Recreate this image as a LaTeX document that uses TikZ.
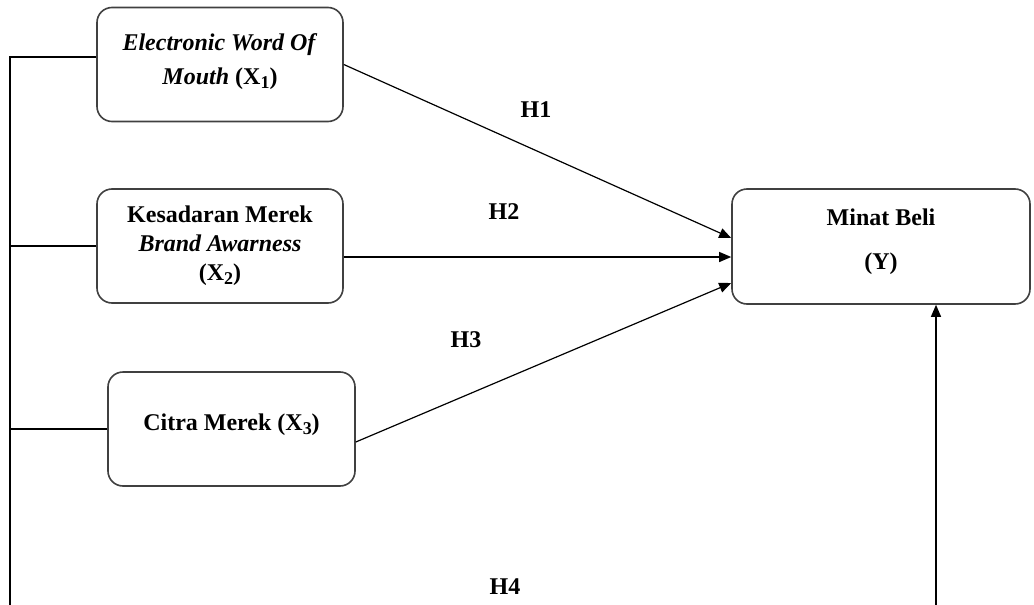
\documentclass[tikz,border=0pt]{standalone}
\usepackage{fontspec}
\setmainfont{Liberation Serif}
\usepackage{tikz}
\usetikzlibrary{calc, positioning, arrows.meta}
\definecolor{boxline}{RGB}{64,64,64}
\newcommand{\xsub}[1]{\raisebox{-0.35ex}{\small#1}}

\begin{document}
\begin{tikzpicture}[
  x=0.5pt, y=-0.5pt,
  font=\fontsize{12}{14.5}\selectfont\bfseries,
  varbox/.style={draw=boxline, line width=0.8pt, rounded corners=7.5pt, minimum width=123pt, minimum height=57pt, align=center, inner sep=2pt},
  link/.style={draw=black, line width=0.6pt},
  arrowlink/.style={link, -{Triangle[length=6pt, width=5pt]}},
  hyplabel/.style={font=\fontsize{12}{14.5}\selectfont\bfseries}
]
\useasboundingbox (0,0) rectangle (1034,605);

% Independent variables
\node[varbox, text depth=5pt] (x1) at (220,64.5) {\textit{Electronic Word Of}\\[2.5pt]\textit{Mouth} (X\xsub{1})};
\node[varbox] (x2) at (220,246) {Kesadaran Merek\\\textit{Brand Awarness}\\(X\xsub{2})};
\node[varbox, minimum width=123.5pt, text depth=7pt] (x3) at (231.5,429) {Citra Merek (X\xsub{3})};

% Dependent variable
\node[varbox, minimum width=149pt, minimum height=57.5pt, text depth=7pt] (ybox) at (881,246.5) {Minat Beli\\[7.5pt](Y)};

% Left bus and bottom ends
\coordinate (lt) at (10,57);
\coordinate (lb) at (10,605);
\coordinate (rb) at (936,605);
\draw[link] (x1.west |- lt) -- (lt) -- (lb);
\draw[link] (x2.west) -- (x2.west -| lt);
\draw[link] (x3.west) -- (x3.west -| lt);

% Hypotheses
\draw[arrowlink] (x1.east) -- ($(ybox.west)+(0,-8.5)$);
\draw[arrowlink] ($(x2.east)+(0,11)$) -- ($(ybox.west)+(0,10.5)$);
\draw[arrowlink] ($(x3.east)+(0,13)$) -- ($(ybox.west)+(0,36.5)$);
\draw[arrowlink] (rb) -- (rb |- ybox.south);

\node[hyplabel] (h1) at (536,110) {H1};
\node[hyplabel] (h2) at (504,212) {H2};
\node[hyplabel] (h3) at (466,340) {H3};
\node[hyplabel] (h4) at (505,587) {H4};
\end{tikzpicture}
\end{document}
